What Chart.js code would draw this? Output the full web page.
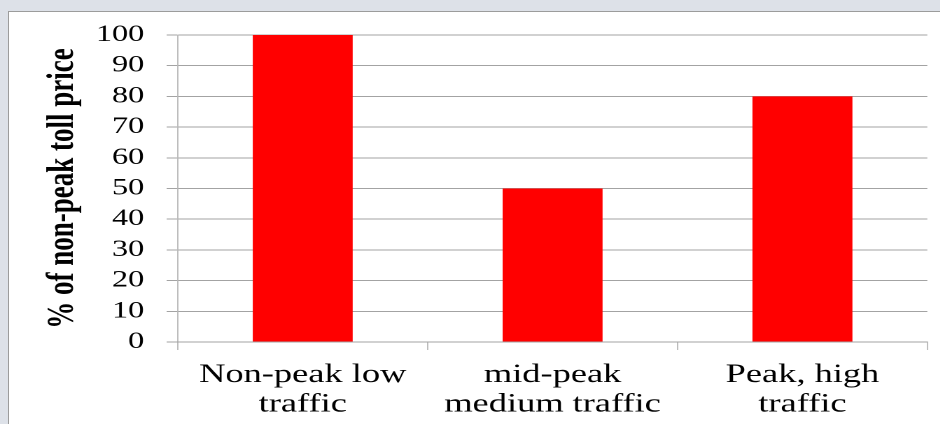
<!DOCTYPE html>
<html>
<head>
<meta charset="utf-8">
<script src="https://cdn.jsdelivr.net/npm/chart.js@4.4.1/dist/chart.umd.min.js"></script>
<style>
  html, body { margin: 0; padding: 0; width: 940px; height: 424px; overflow: hidden; background: #dde1e8; }
  #panel { position: absolute; left: 8px; top: 11px; right: 0; bottom: 0; background: #ffffff;
           border-left: 1px solid #9c9c9c; border-top: 1px solid #9c9c9c; }
  #wrap { position: absolute; left: 0; top: 0; width: 671.43px; height: 424px;
          transform: scaleX(1.4); transform-origin: 0 0; }
</style>
</head>
<body>
<div id="panel"></div>
<div id="wrap"><canvas id="c"></canvas></div>
<script>
const categories = [
  ['Non-peak low', 'traffic'],
  ['mid-peak', 'medium traffic'],
  ['Peak, high', 'traffic']
];
const tollPercent = [100, 50, 80];
const yMin = 0, yMax = 100, yStep = 10;
const yTitle = '% of non-peak toll price';

const SX = 1.4;
const gridColor = '#a3a3a3';

new Chart(document.getElementById('c'), {
  type: 'bar',
  data: {
    labels: categories,
    datasets: [{
      data: tollPercent,
      backgroundColor: '#ff0000',
      borderWidth: 0,
      categoryPercentage: 1.0,
      barPercentage: 0.4
    }]
  },
  options: {
    responsive: true,
    maintainAspectRatio: false,
    devicePixelRatio: 2,
    animation: false,
    layout: { padding: { left: 0, right: 9, top: 35, bottom: 0 } },
    plugins: { legend: { display: false }, tooltip: { enabled: false } },
    scales: {
      x: {
        afterFit: s => { s.height = 82; },
        grid: { display: true, drawOnChartArea: false, drawTicks: true, tickLength: 8,
                color: gridColor, lineWidth: 1 / SX, offset: true },
        border: { display: true, color: gridColor, width: 1 },
        ticks: { color: '#000', padding: 10, maxRotation: 0, autoSkip: false,
                 font: { family: '"Liberation Serif", "Times New Roman", serif', size: 26, lineHeight: 1.15 } }
      },
      y: {
        min: yMin, max: yMax,
        afterFit: s => { s.width = 127; },
        grid: { color: gridColor, lineWidth: 1, drawTicks: true, tickLength: 8 },
        border: { display: true, color: gridColor, width: 1 / SX },
        ticks: { stepSize: yStep, color: '#000', padding: 16,
                 font: { family: '"Liberation Serif", "Times New Roman", serif', size: 23 } },
        title: { display: true, text: yTitle, color: '#000', padding: { top: 29, bottom: 0 },
                 font: { family: '"Liberation Serif", "Times New Roman", serif', size: 27, weight: 'bold', lineHeight: 1.2 } }
      }
    }
  }
});
</script>
</body>
</html>
